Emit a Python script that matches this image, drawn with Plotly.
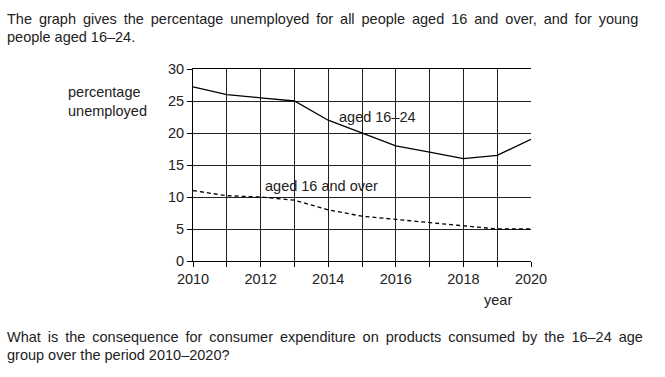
import plotly.graph_objects as go

years = [2010, 2011, 2012, 2013, 2014, 2015, 2016, 2017, 2018, 2019, 2020]
aged_16_24 = [27.2, 26.0, 25.5, 25.0, 22.0, 20.0, 18.0, 17.0, 16.0, 16.5, 19.0]
aged_16_over = [11.0, 10.2, 10.0, 9.5, 8.0, 7.0, 6.5, 6.0, 5.5, 5.0, 5.0]
x_ticks = [2010, 2012, 2014, 2016, 2018, 2020]
y_ticks = [0, 5, 10, 15, 20, 25, 30]

W, H = 665, 377
L, R, T, B = 193, 531, 69, 261  # plot area in pixels

def px(x):
    return (x - L) / (R - L)

def py(y):
    return (B - y) / (B - T)

FONT = "Liberation Sans, Arial, sans-serif"
FS = 14.5
TXT = "#222"

fig = go.Figure()
fig.add_trace(go.Scatter(x=years, y=aged_16_24, mode="lines",
                         line=dict(color="black", width=1.3), showlegend=False))
fig.add_trace(go.Scatter(x=years, y=aged_16_over, mode="lines",
                         line=dict(color="black", width=1.3, dash="4px,3px"), showlegend=False))

fig.update_layout(
    width=W, height=H,
    margin=dict(l=L, r=W - R, t=T, b=H - B),
    paper_bgcolor="white", plot_bgcolor="white",
    font=dict(family=FONT, size=FS, color=TXT),
    xaxis=dict(range=[2010, 2020], tickvals=x_ticks, ticktext=[str(v) for v in x_ticks],
               showgrid=False, zeroline=False, showline=True, linecolor="black", linewidth=1,
               ticks="outside", ticklen=5, tickcolor="black", mirror=True,
               minor=dict(dtick=1, tick0=2010, showgrid=True, gridcolor="#222", gridwidth=1,
                          ticks="outside", ticklen=5, tickcolor="black"),
               tickfont=dict(size=FS, color=TXT)),
    yaxis=dict(range=[0, 30], tickvals=y_ticks, showgrid=True, gridcolor="#222", gridwidth=1,
               zeroline=False, showline=True, linecolor="black", linewidth=1,
               ticks="outside", ticklen=5, tickcolor="black",
               tickfont=dict(size=FS, color=TXT)),
)

def text(s, x, y, xanchor="left", size=FS):
    fig.add_annotation(text=s, x=px(x), y=py(y), xref="paper", yref="paper",
                       showarrow=False, xanchor=xanchor, yanchor="middle",
                       font=dict(size=size, family=FONT, color=TXT), align="left")

TS = " \u2009"  # widened gap for justified lines
line1 = TS.join("The graph gives the percentage unemployed for all people aged 16 and over, and for young".split(" "))
q1 = TS.join("What is the consequence for consumer expenditure on products consumed by the 16–24 age".split(" "))

text(line1, 5, 19)
text("people aged 16–24.", 5, 37)
text("percentage<br>unemployed", 66, 101)
text("year", 498, 300, xanchor="center")
text(q1, 5, 337)
text("group over the period 2010–2020?", 5, 355)

fig.add_annotation(text="aged 16–24", x=2015.45, y=22.5, showarrow=False,
                   font=dict(size=FS, family=FONT, color=TXT))
fig.add_annotation(text="aged 16 and over", x=2013.8, y=11.7, showarrow=False,
                   font=dict(size=FS, family=FONT, color=TXT))

fig.write_html("out.html", config={"displayModeBar": False},
               post_script="document.body.style.margin='0';")
